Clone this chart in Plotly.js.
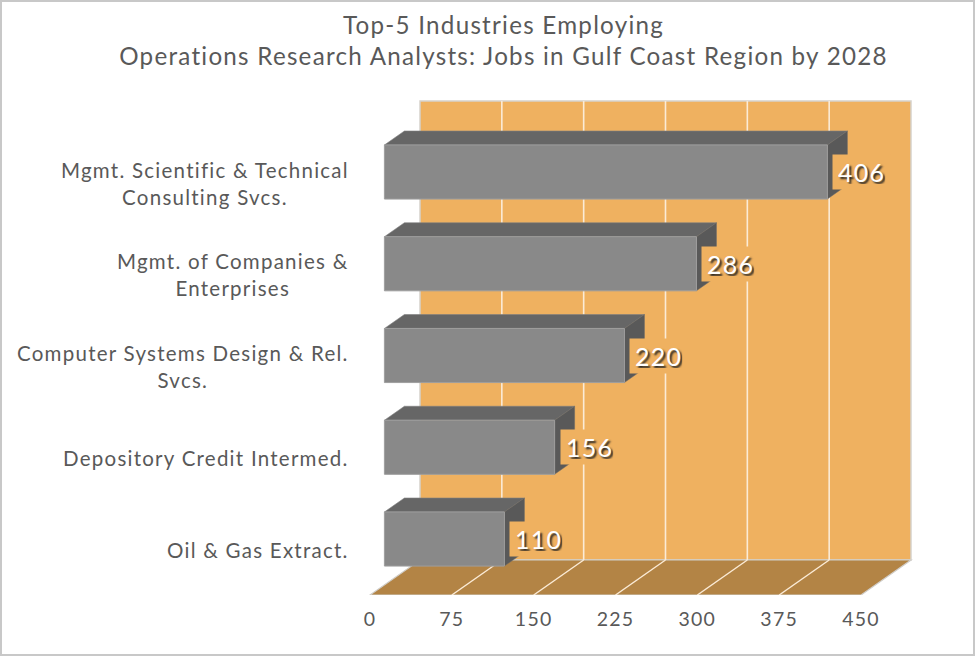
<!DOCTYPE html>
<html><head><meta charset="utf-8">
<script src="https://cdn.plot.ly/plotly-3.0.1.min.js"></script>
<style>html,body{margin:0;padding:0;background:#fff}#c{width:975px;height:656px}
text{letter-spacing:1.25px}</style></head>
<body><div id="c"></div>
<script>
const categories=["Mgmt. Scientific & Technical<br>Consulting Svcs.","Mgmt. of Companies &<br>Enterprises","Computer Systems Design & Rel.<br>Svcs.","Depository Credit Intermed.","Oil & Gas Extract."];
const jobs=[406,286,220,156,110];
const xTicks=[0,75,150,225,300,375,450];
const titleLines=["Top-5 Industries Employing","Operations Research Analysts: Jobs in Gulf Coast Region by 2028"];

const W=975,H=656,B=61,plotH=H-B;
const unit=491/450;            // px per value
const rowPx=91.75,row0=172;    // category spacing / first centre
const font="Lato, 'Open Sans', sans-serif";
const xRange=o=>[-o/unit,(W-o)/unit];
const yVal=px=>(px-row0)/rowPx;
const dxBar=20/unit,dyBar=14/rowPx,halfBar=27/rowPx;
const dxWall=50/unit;
const wallTop=yVal(101),wallBot=yVal(560),floorFront=yVal(595);
const xMax=xTicks[xTicks.length-1];
const P=(pts)=>"M"+pts.map(p=>p[0].toFixed(3)+","+p[1].toFixed(4)).join("L")+"Z";

const shapes=[];
shapes.push({type:"path",xref:"x",yref:"y",layer:"below",path:P([[dxWall,wallTop],[xMax+dxWall,wallTop],[xMax+dxWall,wallBot],[dxWall,wallBot]]),fillcolor:"#EFB160",line:{color:"#D6D2CC",width:1.5}});
shapes.push({type:"path",xref:"x",yref:"y",layer:"below",path:P([[0,floorFront],[xMax,floorFront],[xMax+dxWall,wallBot],[dxWall,wallBot]]),fillcolor:"#B38445",line:{color:"#D0CDC8",width:1.2}});
xTicks.slice(1,-1).forEach(t=>{
  shapes.push({type:"line",xref:"x",yref:"y",layer:"below",x0:t+dxWall,x1:t+dxWall,y0:wallTop,y1:wallBot,line:{color:"#FBEBD6",width:1.6}});
  shapes.push({type:"line",xref:"x",yref:"y",layer:"below",x0:t,x1:t+dxWall,y0:floorFront,y1:wallBot,line:{color:"#FBEBD6",width:1.4}});
});
jobs.forEach((v,i)=>{
  const top=i-halfBar,bot=i+halfBar;
  shapes.push({type:"path",xref:"x2",yref:"y",layer:"below",path:P([[0,top],[dxBar,top-dyBar],[v+dxBar,top-dyBar],[v,top]]),fillcolor:"#666666",line:{color:"#808080",width:.6}});
  shapes.push({type:"path",xref:"x2",yref:"y",layer:"below",path:P([[v,top],[v+dxBar,top-dyBar],[v+dxBar,bot-dyBar],[v,bot]]),fillcolor:"#595959",line:{color:"#6a6a6a",width:.5}});
});
shapes.push({type:"rect",xref:"paper",yref:"paper",x0:1/W,x1:(W-1)/W,y0:-(B-1)/plotH,y1:(plotH-1)/plotH,line:{color:"#C8C8C8",width:2},fillcolor:"rgba(0,0,0,0)"});

const annotations=[];
categories.forEach((c,i)=>annotations.push({text:c,xref:"x",yref:"y",x:(350-370)/unit,y:categories[i],xanchor:"right",yanchor:"middle",align:"center",yshift:-11,borderpad:0,showarrow:false,font:{family:font,size:20.5,color:"#595959"}}));
jobs.forEach((v,i)=>annotations.push({text:String(v),xref:"x2",yref:"y",x:v,y:categories[i],xanchor:"left",yanchor:"middle",xshift:5,yshift:0,showarrow:false,bgcolor:"#EFB160",borderpad:5,height:24,valign:"middle",font:{family:font,size:25,color:"#FFFFFF",shadow:"2px 2px 2px #222222"}}));

const trace={type:"bar",orientation:"h",x:jobs,y:categories,xaxis:"x2",yaxis:"y",marker:{color:"#898989",line:{color:"#9E9E9E",width:1}},hoverinfo:"x+y"};
const layout={
  width:W,height:H,showlegend:false,paper_bgcolor:"#fff",plot_bgcolor:"rgba(0,0,0,0)",
  margin:{l:0,r:0,t:0,b:B,pad:0},bargap:0.41,
  title:{text:titleLines.join("<br>"),x:503.5/W,xanchor:"center",xref:"paper",y:1-34/H,yanchor:"top",font:{family:font,size:24.2,color:"#595959"}},
  xaxis:{range:xRange(370),tickmode:"array",tickvals:xTicks,ticktext:xTicks.map(String),showgrid:false,zeroline:false,showline:false,ticks:"outside",ticklen:7,tickcolor:"rgba(0,0,0,0)",tickfont:{family:font,size:19.5,color:"#595959"},anchor:"y"},
  xaxis2:{range:xRange(384.4),overlaying:"x",anchor:"y",visible:false,showgrid:false,zeroline:false},
  yaxis:{type:"category",categoryorder:"array",categoryarray:categories,range:[yVal(595),yVal(0)],showticklabels:false,showgrid:false,zeroline:false,showline:false,ticks:""},
  shapes,annotations
};
Plotly.newPlot("c",[trace],layout,{displayModeBar:false,responsive:false});
</script></body></html>
